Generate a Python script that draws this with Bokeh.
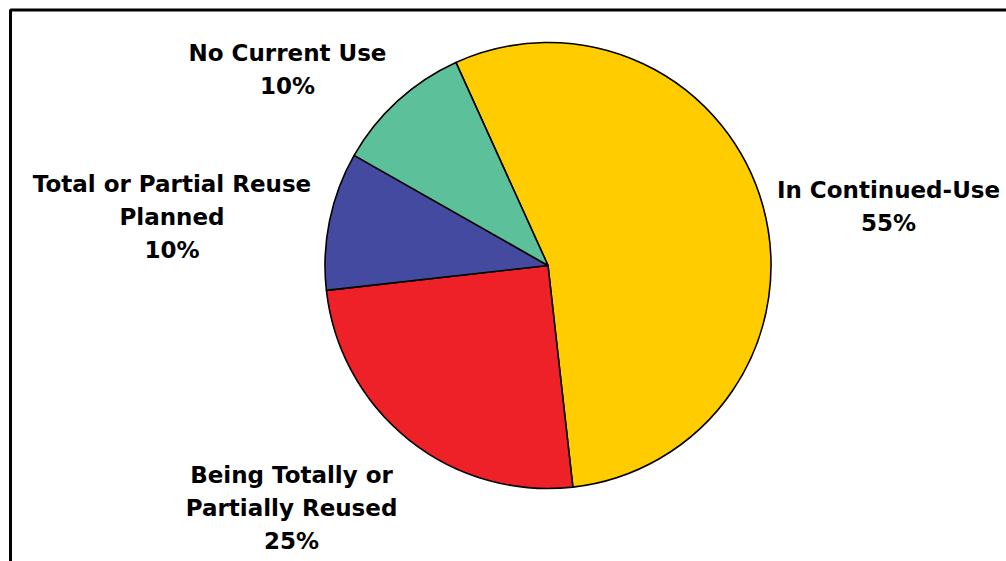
import math
from bokeh.plotting import figure
from bokeh.models import Range1d, BoxAnnotation, ColumnDataSource
from bokeh.core.properties import value
from bokeh.embed import file_html
from bokeh.resources import INLINE

# ---- data ----
categories = ["In Continued-Use", "Being Totally or Partially Reused",
              "Total or Partial Reuse Planned", "No Current Use"]
shares = [55, 25, 10, 10]
label_lines = [["In Continued-Use"],
               ["Being Totally or", "Partially Reused"],
               ["Total or Partial Reuse", "Planned"],
               ["No Current Use"]]

# ---- style / layout ----
colors = ["#FFCC00", "#EE2128", "#434AA0", "#5CC19B"]
W, H = 1006, 561
cx, cy_px, radius = 547.5, 265, 223
start_deg = 114.4          # first slice starts here, slices run clockwise
label_anchor = [(888, 189), (291, 474), (171.5, 183), (287, 52)]  # centre x, first baseline (px from top)
line_step = 33

p = figure(width=W, height=H, output_backend="svg", toolbar_location=None,
           x_range=Range1d(0, W), y_range=Range1d(0, H),
           min_border=0, min_border_left=0, min_border_right=0,
           min_border_top=0, min_border_bottom=0)
p.axis.visible = False
p.grid.visible = False
p.outline_line_color = None
p.background_fill_color = "white"
p.border_fill_color = "white"

# frame (only left/top edges visible in the window)
p.add_layout(BoxAnnotation(left=10, right=W + 200, top=H - 9.5, bottom=-200,
                           fill_alpha=0, line_color="black", line_alpha=1.0,
                           line_width=3))

total = sum(shares)
starts, ends = [], []
acc = 0
for s in shares:
    a0 = math.radians(start_deg - acc / total * 360)
    a1 = math.radians(start_deg - (acc + s) / total * 360)
    starts.append(a0)
    ends.append(a1)
    acc += s

src = ColumnDataSource(dict(cat=categories, share=shares, start=starts, end=ends,
                            color=colors))
p.wedge(x=cx, y=H - cy_px, radius=radius, start_angle="start", end_angle="end",
        direction="clock", fill_color="color", line_color="black", line_width=1.6,
        source=src)

tx, ty, tt = [], [], []
for lines, s, (ax, ay) in zip(label_lines, shares, label_anchor):
    all_lines = lines + [f"{s}%"]
    for k, ln in enumerate(all_lines):
        tx.append(ax)
        ty.append(H - (ay + k * line_step))
        tt.append(ln)

p.text(x=tx, y=ty, text=tt, text_align="center", text_baseline="alphabetic",
       text_font=value("DejaVu Sans"), text_font_style="bold",
       text_font_size="23px", text_color="black")

open("out.html", "w").write(file_html(p, INLINE))
